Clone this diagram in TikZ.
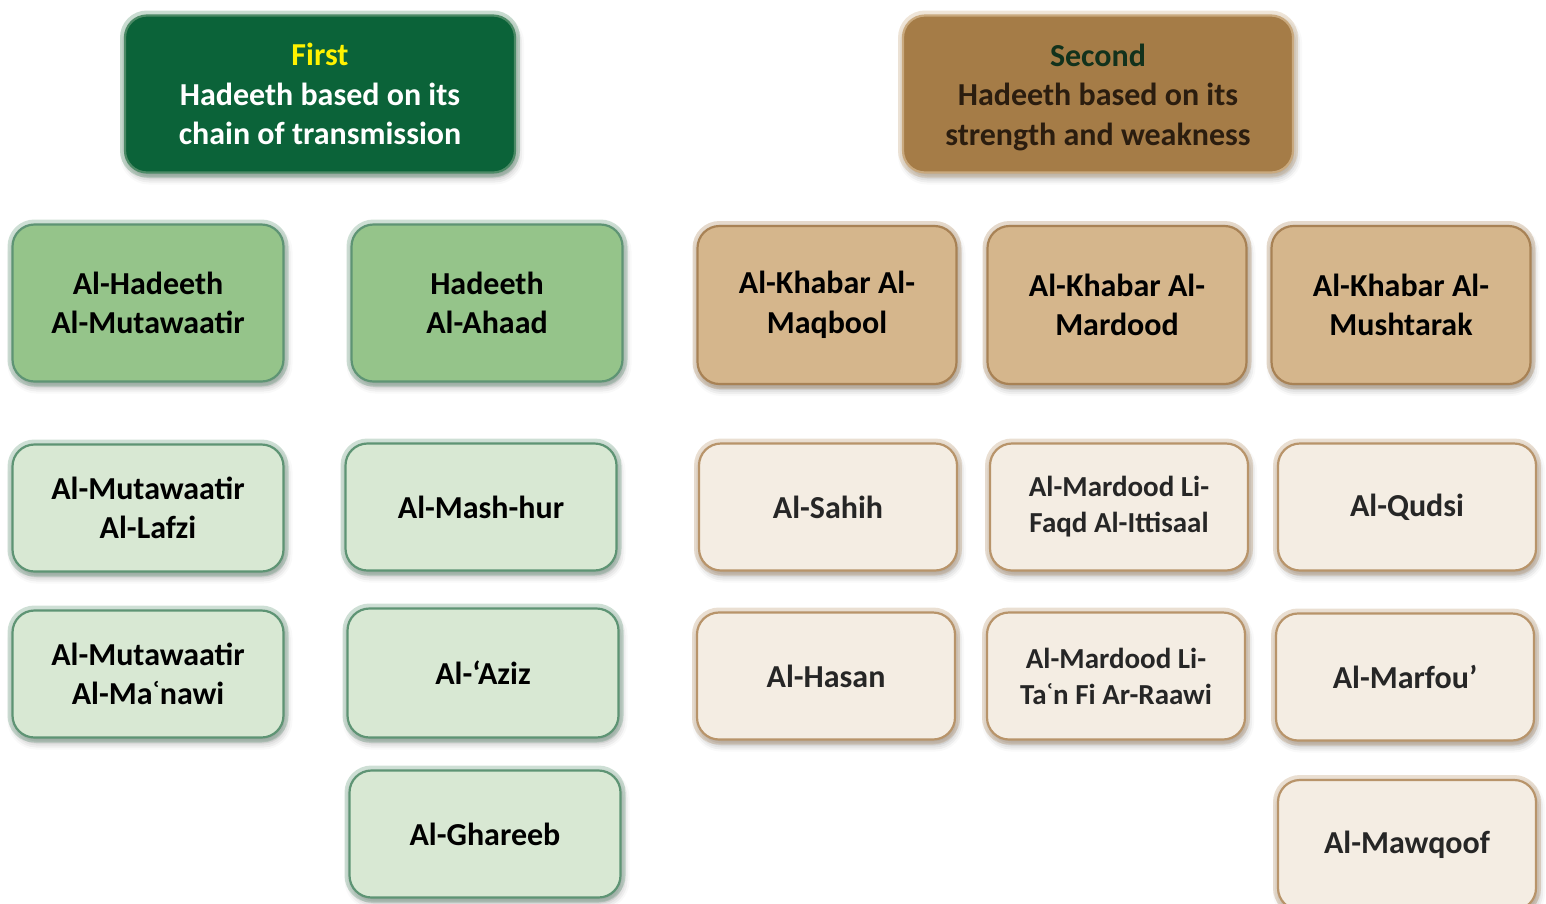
\documentclass[tikz,border=0pt]{standalone}
\usepackage{fontspec}
\setmainfont{Carlito}
\usetikzlibrary{shadows.blur}

\definecolor{headgreen}{HTML}{0B6339}
\definecolor{headgreenedge}{HTML}{4C8A66}
\definecolor{midgreen}{HTML}{95C48A}
\definecolor{lightgreen}{HTML}{D8E8D3}
\definecolor{greenedge}{HTML}{5E9474}
\definecolor{headbrown}{HTML}{A57C47}
\definecolor{headbrownedge}{HTML}{C9A97E}
\definecolor{tan}{HTML}{D5B68C}
\definecolor{tanedge}{HTML}{A88255}
\definecolor{cream}{HTML}{F4EDE3}
\definecolor{creamedge}{HTML}{B8946A}
\definecolor{browntext}{HTML}{2B1D0F}
\definecolor{secondtext}{HTML}{12321C}
\definecolor{greytext}{HTML}{262626}

\begin{document}
\begin{tikzpicture}[x=1pt, y=-1pt,
    box/.style={rounded corners=22pt, align=center, inner sep=0pt, line width=2.2pt,
        font=\bfseries\fontsize{32}{39.5}\selectfont,
        blur shadow={shadow xshift=2pt, shadow yshift=-5pt, shadow blur radius=7pt, shadow opacity=35}},
    greenglow/.style={draw=#1, preaction={draw=#1, line width=10pt, draw opacity=0.3}},
    headone/.style={box, greenglow=headgreenedge, fill=headgreen, text=white,
        minimum width=390pt, minimum height=157pt},
    headtwo/.style={box, greenglow=headbrownedge, fill=headbrown, text=browntext,
        minimum width=390pt, minimum height=157pt},
    kindbox/.style={box, greenglow=greenedge, fill=midgreen, text=black,
        minimum width=271pt, minimum height=157pt},
    subbox/.style={box, greenglow=greenedge, fill=lightgreen, text=black,
        minimum width=271pt, minimum height=127pt},
    khabarbox/.style={box, greenglow=tanedge, fill=tan, text=black,
        minimum width=259pt, minimum height=158pt},
    sortbox/.style={box, greenglow=creamedge, fill=cream, text=greytext,
        minimum width=258pt, minimum height=127pt},
    smalltext/.style={font=\bfseries\fontsize{29}{36}\selectfont}
]
\useasboundingbox (0,0) rectangle (1546,903);

% Headers
\node[headone] (first) at (320,94) {\textcolor{yellow}{First}\\Hadeeth based on its\\chain of transmission};
\node[headtwo] (second) at (1098,94) {};
\node[align=center, text=browntext, font=\bfseries\fontsize{32}{39.5}\selectfont] (secondtext) at (1098,97)
    {\textcolor{secondtext}{Second}\\Hadeeth based on its\\strength and weakness};

% Chain of transmission
\node[kindbox] (mutawaatir) at (148,303) {Al-Hadeeth\\Al-Mutawaatir};
\node[kindbox] (ahaad) at (487,303) {Hadeeth\\Al-Ahaad};
\node[subbox] (lafzi) at (148,508) {Al-Mutawaatir\\Al-Lafzi};
\node[subbox] (manawi) at (148,674) {Al-Mutawaatir\\Al-Ma\char"02BF nawi};
\node[subbox] (mashhur) at (481,507) {Al-Mash-hur};
\node[subbox, minimum height=129pt] (aziz) at (483,673) {Al-‘Aziz};
\node[subbox] (ghareeb) at (485,834) {Al-Ghareeb};

% Strength and weakness
\node[khabarbox] (maqbool) at (827,305) {Al-Khabar Al-\\Maqbool};
\node[khabarbox] (mardood) at (1117,305) {Al-Khabar Al-\\Mardood};
\node[khabarbox] (mushtarak) at (1401,305) {Al-Khabar Al-\\Mushtarak};
\node[sortbox] (sahih) at (828,507) {Al-Sahih};
\node[sortbox, smalltext] (faqd) at (1119,507) {Al-Mardood Li-\\Faqd Al-Ittisaal};
\node[sortbox] (qudsi) at (1407,507) {Al-Qudsi};
\node[sortbox] (hasan) at (826,676) {Al-Hasan};
\node[sortbox, smalltext] (taan) at (1116,676) {Al-Mardood Li-\\Ta\char"02BF n Fi Ar-Raawi};
\node[sortbox] (marfou) at (1405,677) {Al-Marfou’};
\node[sortbox, minimum height=130pt] (mawqoof) at (1407,845) {Al-Mawqoof};

\end{tikzpicture}
\end{document}
